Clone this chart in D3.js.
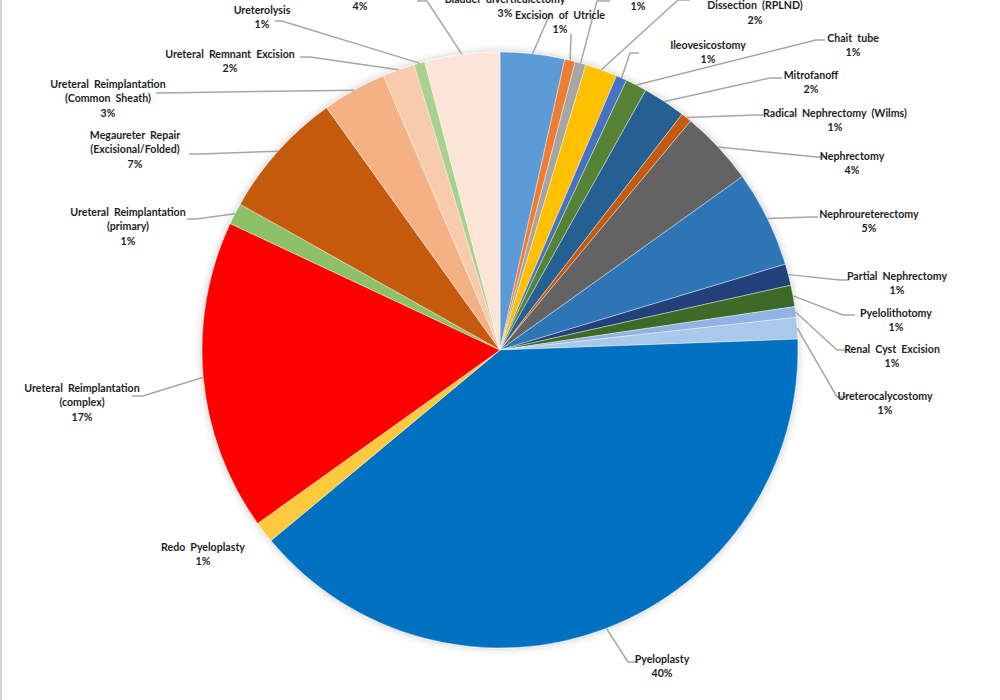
<!DOCTYPE html>
<html>
<head>
<meta charset="utf-8">
<script src="https://cdn.jsdelivr.net/npm/d3@7"></script>
<style>
  html, body { margin: 0; padding: 0; background: #ffffff; }
  svg { display: block; }
  text { font-family: Lato, "Open Sans", sans-serif; font-weight: 700; font-size: 10.6px; fill: #1e1e1e; word-spacing: 2.5px; }
</style>
</head>
<body>
<script>
// ---- data (clockwise from 12 o'clock) ----
const categories = [
  "Bladder diverticulectomy", "Excision of Utricle", "Cystolithotomy",
  "Retroperitoneal Lymph Node Dissection (RPLND)", "Ileovesicostomy", "Chait tube",
  "Mitrofanoff", "Radical Nephrectomy (Wilms)", "Nephrectomy", "Nephroureterectomy",
  "Partial Nephrectomy", "Pyelolithotomy", "Renal Cyst Excision", "Ureterocalycostomy",
  "Pyeloplasty", "Redo Pyeloplasty", "Ureteral Reimplantation (complex)",
  "Ureteral Reimplantation (primary)", "Megaureter Repair (Excisional/Folded)",
  "Ureteral Reimplantation (Common Sheath)", "Ureteral Remnant Excision",
  "Ureterolysis", "Ureteroureterostomy"
];
const counts = [6, 1, 1, 3, 1, 2, 4, 1, 7, 9, 2, 2, 1, 2, 68, 2, 29, 2, 12, 6, 3, 1, 7];
const labelLines = [
  ["Bladder  diverticulectomy"], ["Excision  of  Utricle"], ["Cystolithotomy"],
  ["Retroperitoneal  Lymph  Node", "Dissection  (RPLND)"], ["Ileovesicostomy"], ["Chait  tube"],
  ["Mitrofanoff"], ["Radical  Nephrectomy  (Wilms)"], ["Nephrectomy"], ["Nephroureterectomy"],
  ["Partial  Nephrectomy"], ["Pyelolithotomy"], ["Renal  Cyst Excision"], ["Ureterocalycostomy"],
  ["Pyeloplasty"], ["Redo  Pyeloplasty"], ["Ureteral Reimplantation", "(complex)"],
  ["Ureteral Reimplantation", "(primary)"], ["Megaureter  Repair", "(Excisional/Folded)"],
  ["Ureteral Reimplantation", "(Common  Sheath)"], ["Ureteral Remnant  Excision"],
  ["Ureterolysis"], ["Ureteroureterostomy"]
];
// ---- styles ----
const colors = [
  "#5B9BD5", "#ED7D31", "#A5A5A5", "#FFC000", "#4472C4", "#548235",
  "#255E91", "#C55A11", "#636363", "#2E75B6", "#203F7A", "#3E6B27",
  "#8FB4E3", "#A9C8EA", "#0070C0", "#FFC93C", "#FF0000", "#8CC168",
  "#C55A11", "#F4B183", "#F8CBAD", "#A9D18E", "#FBE5D6"
];
// label layout: centre x, first-line centre y, leader elbow, leader end (null = no leader)
const labelLayout = [
  {x: 505, y: -1, elbow: [549, 16], end: [551, 14]},
  {x: 560, y: 15, elbow: [571, 36], end: [571, 34]},
  {x: 638, y: -8, elbow: [597, 1], end: [610, 1]},
  {x: 755, y: -9, elbow: [678, 0], end: [690, 0]},
  {x: 708, y: 45, elbow: [630, 53], end: [639, 53]},
  {x: 853, y: 38, elbow: [816, 40], end: [825, 40]},
  {x: 811, y: 75, elbow: [770, 78], end: [782, 78]},
  {x: 835, y: 113, elbow: [756, 115], end: [763, 115]},
  {x: 852, y: 156, elbow: [817, 157], end: [827, 157]},
  {x: 869, y: 214, elbow: [812, 217], end: [818, 217]},
  {x: 897, y: 276, elbow: [840, 280], end: [849, 280]},
  {x: 896, y: 313, elbow: [843, 315], end: [855, 315]},
  {x: 892, y: 349, elbow: [837, 350], end: [848, 350]},
  {x: 885, y: 396, elbow: [837, 397], end: [847, 397]},
  {x: 662, y: 659, elbow: [628, 662], end: [638, 662]},
  {x: 203, y: 547, elbow: null, end: null},
  {x: 82, y: 388, elbow: [143, 396], end: [132, 396]},
  {x: 128, y: 212, elbow: [196, 219], end: [187, 219]},
  {x: 135, y: 135, elbow: [200, 154], end: [189, 154]},
  {x: 108, y: 84, elbow: [160, 93], end: [156, 93]},
  {x: 230, y: 54, elbow: [310, 57], end: [300, 57]},
  {x: 262, y: 10, elbow: [282, 21], end: [275, 21]},
  {x: 360, y: -8, elbow: [427, 1], end: [417, 1]}
];

const W = 1000, H = 700;
const cx = 500, cy = 350, R = 298;
const lineH = 14.6;

const svg = d3.select("body").append("svg").attr("width", W).attr("height", H);

const defs = svg.append("defs");
const f = defs.append("filter").attr("id", "shadow").attr("x", "-10%").attr("y", "-10%").attr("width", "120%").attr("height", "120%");
f.append("feDropShadow").attr("dx", 0).attr("dy", 0).attr("stdDeviation", 4)
  .attr("flood-color", "#000").attr("flood-opacity", 0.22);

// left frame edge
svg.append("line").attr("x1", 1).attr("x2", 1).attr("y1", 0).attr("y2", H)
  .attr("stroke", "#d4d4d4").attr("stroke-width", 2);

const total = d3.sum(counts);
const pct = d3.format(".0%");
const data = counts.map((v, i) => ({name: categories[i], value: v, i}));

const pie = d3.pie().sort(null).value(d => d.value).startAngle(0).endAngle(2 * Math.PI);
const arcs = pie(data);
const arc = d3.arc().innerRadius(0).outerRadius(R);
const edgeArc = d3.arc().innerRadius(R).outerRadius(R);

const g = svg.append("g").attr("transform", `translate(${cx},${cy})`);
g.append("g").attr("filter", "url(#shadow)")
  .selectAll("path").data(arcs).join("path")
  .attr("d", arc)
  .attr("fill", d => colors[d.data.i])
  .attr("stroke", "#ffffff").attr("stroke-width", 0.4);

// leader lines
const leaders = svg.append("g");
arcs.forEach(a => {
  const L = labelLayout[a.data.i];
  if (!L.elbow) return;
  const p = edgeArc.centroid(a);
  const start = [cx + p[0], cy + p[1]];
  leaders.append("path")
    .attr("d", d3.line()([start, L.elbow, L.end]))
    .attr("fill", "none").attr("stroke", "#a6a6a6").attr("stroke-width", 1.5);
});

// labels
const labels = svg.append("g");
arcs.forEach(a => {
  const i = a.data.i;
  const L = labelLayout[i];
  const lines = labelLines[i].concat([pct(a.data.value / total)]);
  const t = labels.append("text").attr("text-anchor", "middle");
  lines.forEach((s, k) => {
    t.append("tspan").attr("x", L.x).attr("y", L.y + k * lineH).attr("dy", "0.35em").text(s);
  });
});
</script>
</body>
</html>
